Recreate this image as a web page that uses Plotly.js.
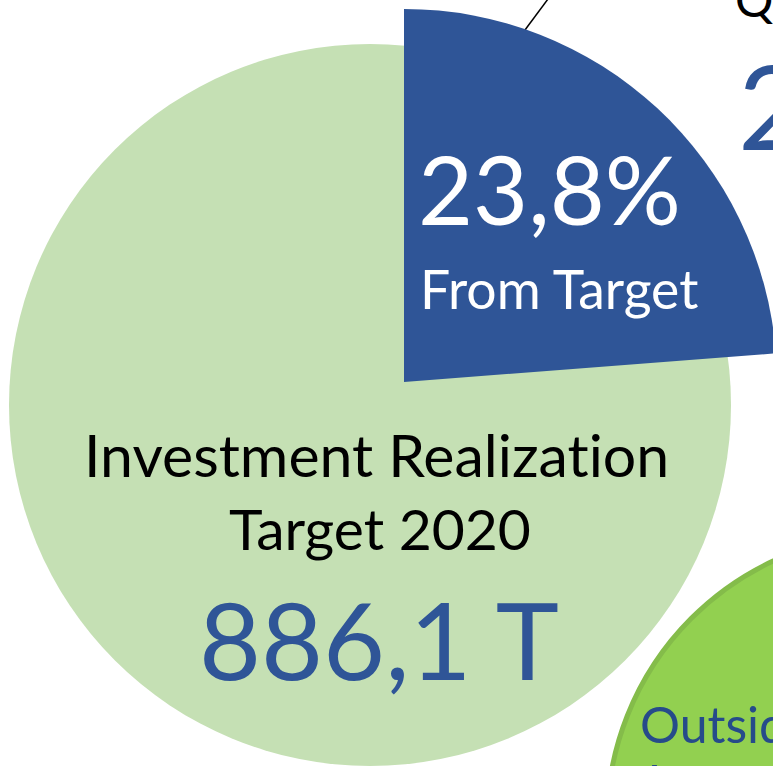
<!DOCTYPE html>
<html>
<head>
<meta charset="utf-8">
<script src="https://cdn.plot.ly/plotly-3.0.1.min.js"></script>
<style>
  html, body { margin: 0; padding: 0; background: #fff; overflow: hidden; }
  #wrap { width: 773px; height: 766px; overflow: hidden; position: relative; }
  #chart { width: 820px; height: 766px; }
  svg text { font-variant-ligatures: none; font-feature-settings: "liga" 0; }
</style>
</head>
<body>
<div id="wrap"><div id="chart"></div></div>
<script>
// ---- data ----
const targetLabel = ["Investment Realization Target 2020"];
const targetValue = [886.1];                       // T (trillion Rp)
const sliceLabels = ["Realization Q1 2020", "Remaining"];
const sliceValues = [210.7, 675.4];                // T
const shareText = "23,8%";
const shareSub = "From Target";
const targetText = ["Investment Realization", "Target 2020"];
const targetNumText = "886,1 T";
const realLabelText = "Q1 2020";
const realNumText = "210,7 T";
const outsideText = ["Outside", "Java"];

// ---- layout helpers (pixel -> paper) ----
const W = 820, H = 766;
const fx = p => p / W;
const fy = p => 1 - p / H;

const FONT = "Lato, 'Noto Sans', sans-serif";
const BLUE = "#2F5597";

const traces = [
  {
    type: "pie",
    labels: targetLabel,
    values: targetValue,
    marker: { colors: ["#C5E0B4"], line: { width: 0 } },
    textinfo: "none",
    hoverinfo: "skip",
    sort: false,
    domain: { x: [fx(9), fx(731)], y: [fy(766), fy(44)] }
  },
  {
    type: "pie",
    labels: sliceLabels,
    values: sliceValues,
    marker: { colors: [BLUE, "rgba(0,0,0,0)"], line: { width: 0 } },
    textinfo: "none",
    hoverinfo: "skip",
    sort: false,
    direction: "clockwise",
    rotation: 0,
    domain: { x: [fx(31), fx(777)], y: [fy(755), fy(9)] }
  }
];

function ann(text, xpx, ypx, size, color, xanchor) {
  const corr = 0.03 * size;
  return {
    text: text, xref: "paper", yref: "paper",
    x: fx(xpx), y: fy(ypx - corr),
    xanchor: xanchor || "center", yanchor: "middle",
    showarrow: false,
    font: { family: FONT, size: size, color: color }
  };
}

const layout = {
  width: W, height: H,
  margin: { l: 0, r: 0, t: 0, b: 0 },
  paper_bgcolor: "#ffffff",
  showlegend: false,
  shapes: [
    { type: "circle", xref: "paper", yref: "paper",
      x0: fx(895 - 288), x1: fx(895 + 288), y0: fy(822 + 288), y1: fy(822 - 288),
      fillcolor: "#92D050", line: { color: "#84BC4A", width: 5 }, layer: "below" },
    { type: "line", xref: "paper", yref: "paper",
      x0: fx(522), y0: fy(34), x1: fx(548), y1: fy(-1),
      line: { color: "#000000", width: 1.5 }, layer: "below" }
  ],
  annotations: [
    ann(shareText, 549, 191, 95, "#ffffff"),
    ann(shareSub, 559, 290, 53.5, "#ffffff"),
    ann(targetText[0], 376, 456.5, 59, "#000000"),
    ann(targetText[1], 379.5, 529.5, 57, "#000000"),
    ann(targetNumText, 378.5, 641.5, 107, BLUE),
    ann(realLabelText, 733, 0, 48, "#000000", "left"),
    ann(realNumText, 736, 108.5, 116, BLUE, "left"),
    ann(outsideText[0], 638, 725, 50, "#264B8A", "left"),
    ann(outsideText[1], 638, 783, 50, "#264B8A", "left")
  ]
};

Plotly.newPlot("chart", traces, layout, { staticPlot: true, displayModeBar: false });
</script>
</body>
</html>
